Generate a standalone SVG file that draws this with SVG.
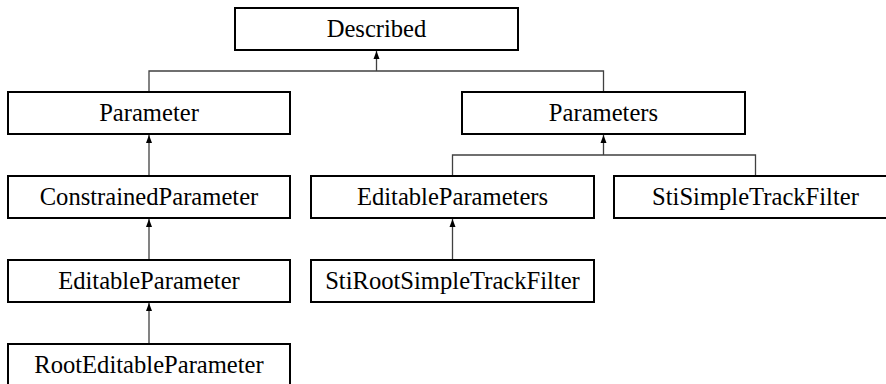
<svg xmlns="http://www.w3.org/2000/svg" width="886" height="384" viewBox="0 0 886 384">
<style>
.box{fill:#fff;stroke:#000;stroke-width:2}
.lbl{font-family:'Liberation Serif','Times New Roman','DejaVu Serif',serif;font-size:24.6px;fill:#000;text-anchor:middle}
.ln{fill:none;stroke:#404040;stroke-width:1.3}
</style>
<defs>
<marker id="arr" markerUnits="userSpaceOnUse" markerWidth="8" markerHeight="8" viewBox="0 0 8 8" refX="8" refY="4" orient="auto">
<path d="M0,1 L8,4 L0,7 Z" fill="#000"/>
</marker>
</defs>
<rect width="886" height="384" fill="#fff"/>
<g id="connectors">
<path class="ln" d="M149,92 V71 H603.5 V92"/>
<path class="ln" d="M376.5,71 V51" marker-end="url(#arr)"/>
<path class="ln" d="M452.5,176 V155 H755.5 V176"/>
<path class="ln" d="M603.5,155 V135" marker-end="url(#arr)"/>
<path class="ln" d="M149,176 V135" marker-end="url(#arr)"/>
<path class="ln" d="M149,260 V219" marker-end="url(#arr)"/>
<path class="ln" d="M149,344 V303" marker-end="url(#arr)"/>
<path class="ln" d="M452.5,260 V219" marker-end="url(#arr)"/>
</g>
<g id="Described"><rect class="box" x="235" y="8" width="283" height="42"/><text class="lbl" font-family="Liberation Serif, serif" x="376.5" y="37">Described</text></g>
<g id="Parameter"><rect class="box" x="8" y="92" width="282" height="42"/><text class="lbl" font-family="Liberation Serif, serif" x="149" y="121">Parameter</text></g>
<g id="Parameters"><rect class="box" x="462" y="92" width="283" height="42"/><text class="lbl" font-family="Liberation Serif, serif" x="603.5" y="121">Parameters</text></g>
<g id="ConstrainedParameter"><rect class="box" x="8" y="176" width="282" height="42"/><text class="lbl" font-family="Liberation Serif, serif" x="149" y="205">ConstrainedParameter</text></g>
<g id="EditableParameters"><rect class="box" x="311" y="176" width="283" height="42"/><text class="lbl" font-family="Liberation Serif, serif" x="452.5" y="205">EditableParameters</text></g>
<g id="StiSimpleTrackFilter"><rect class="box" x="614" y="176" width="283" height="42"/><text class="lbl" font-family="Liberation Serif, serif" x="755.5" y="205">StiSimpleTrackFilter</text></g>
<g id="EditableParameter"><rect class="box" x="8" y="260" width="282" height="42"/><text class="lbl" font-family="Liberation Serif, serif" x="149" y="289">EditableParameter</text></g>
<g id="StiRootSimpleTrackFilter"><rect class="box" x="311" y="260" width="283" height="42"/><text class="lbl" font-family="Liberation Serif, serif" x="452.5" y="289">StiRootSimpleTrackFilter</text></g>
<g id="RootEditableParameter"><rect class="box" x="8" y="344" width="282" height="42"/><text class="lbl" font-family="Liberation Serif, serif" x="149" y="373">RootEditableParameter</text></g>
</svg>
